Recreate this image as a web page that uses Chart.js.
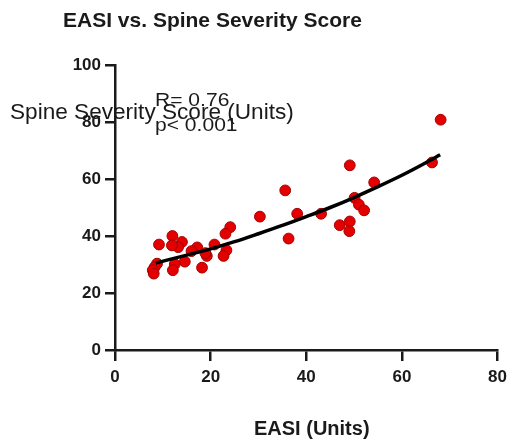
<!DOCTYPE html>
<html>
<head>
<meta charset="utf-8">
<script src="https://cdn.jsdelivr.net/npm/chart.js@4"></script>
<style>
  html, body { margin: 0; padding: 0; background: #fff; }
  #wrap { width: 513px; height: 448px; }
</style>
</head>
<body>
<div id="wrap"><canvas id="easiChart" width="513" height="448"></canvas></div>
<script>
// EASI score vs. spine severity score, one point per patient
const easiValues = [68.1, 66.3, 54.2, 49.1, 35.6, 50.1, 51.0, 52.1, 38.1, 43.1, 47.0, 49.1, 49.0, 36.3,
  30.3, 24.1, 23.1, 20.8, 23.3, 22.7, 19.2, 17.2, 16.0, 14.0, 13.2, 12.0, 11.9, 9.2,
  18.2, 14.6, 12.5, 12.1, 8.8, 8.3, 7.9, 8.1, 18.9];
const spineValues = [80.8, 65.8, 58.8, 64.8, 56.0, 53.4, 51.0, 49.0, 47.8, 47.8, 43.8, 45.1, 41.7, 39.1,
  46.8, 43.1, 40.8, 37.0, 35.0, 33.0, 33.0, 36.0, 34.7, 37.9, 36.1, 40.0, 36.7, 37.0,
  28.9, 31.0, 30.1, 28.0, 30.3, 29.1, 28.0, 26.8, 34.0];

// fitted curve
const fitX = [8.5, 15, 20, 25, 30, 35, 40, 45, 50, 55, 60, 65, 68];
const fitY = [30.5, 33.3, 35.5, 38.0, 40.8, 43.7, 46.8, 50.0, 53.5, 57.3, 61.3, 65.7, 68.5];

const xTicks = [0, 20, 40, 60, 80];
const yTicks = [0, 20, 40, 60, 80, 100];

const chartTitle = "EASI vs. Spine Severity Score";
const xTitle = "EASI (Units)";
const yTitle = "Spine Severity Score (Units)";
const statLines = ["R= 0.76", "p< 0.001"];

const FONT = "'Liberation Sans', Arial, sans-serif";
const INK = "#1a1a1a";

const points = easiValues.map((x, i) => ({ x: x, y: spineValues[i] }));
const fitPoints = fitX.map((x, i) => ({ x: x, y: fitY[i] }));

// free text: title, axis titles and the statistics block
const textPlugin = {
    id: "freeText",
    afterDraw(chart) {
        let ctx = chart.ctx;
        ctx.save();
        ctx.fillStyle = INK;
        ctx.textBaseline = "alphabetic";
        ctx.textAlign = "left";

        ctx.font = "bold 21px " + FONT;
        ctx.fillText(chartTitle, 63, 27);

        ctx.font = "22.6px " + FONT;
        ctx.fillText(yTitle, 10, 119);

        ctx.font = "bold 20px " + FONT;
        ctx.fillText(xTitle, 254, 435);

        // stats are a bit stretched sideways
        ctx.font = "18px " + FONT;
        ctx.save();
        ctx.translate(155, 0);
        ctx.scale(1.17, 1);
        ctx.fillText(statLines[0], 0, 106);
        ctx.fillText(statLines[1], 0, 131);
        ctx.restore();

        ctx.restore();
    }
};

function axisOptions(min, max, ticks, isX) {
    return {
        type: "linear",
        min: min,
        max: max,
        afterBuildTicks: scale => { scale.ticks = ticks.map(v => ({ value: v })); },
        afterFit: scale => {
            if (isX) scale.height = 98;
            else scale.width = 115;
        },
        grid: {
            display: true,
            drawOnChartArea: false,
            drawTicks: true,
            tickLength: isX ? 11 : 10,
            color: INK,
            lineWidth: 2.5
        },
        border: { display: true, color: INK, width: 2.5 },
        ticks: {
            color: INK,
            padding: isX ? 6 : 4,
            font: { family: FONT, size: 17, weight: "bold" }
        }
    };
}

new Chart(document.getElementById("easiChart"), {
    type: "scatter",
    data: {
        datasets: [{
            type: "line",
            label: "Fit",
            data: fitPoints,
            borderColor: "#000",
            borderWidth: 3.5,
            pointRadius: 0,
            tension: 0.4,
            cubicInterpolationMode: "monotone",
            fill: false
        }, {
            label: "Patients",
            data: points,
            backgroundColor: "#e50000",
            borderColor: "#a30000",
            borderWidth: 1,
            pointRadius: 5.4
        }]
    },
    options: {
        responsive: false,
        animation: false,
        layout: { padding: { left: 0, top: 65, right: 12, bottom: 0 } },
        plugins: {
            legend: { display: false },
            title: { display: false },
            tooltip: { enabled: false }
        },
        scales: {
            x: axisOptions(0, 80, xTicks, true),
            y: axisOptions(0, 100, yTicks, false)
        }
    },
    plugins: [textPlugin]
});
</script>
</body>
</html>
